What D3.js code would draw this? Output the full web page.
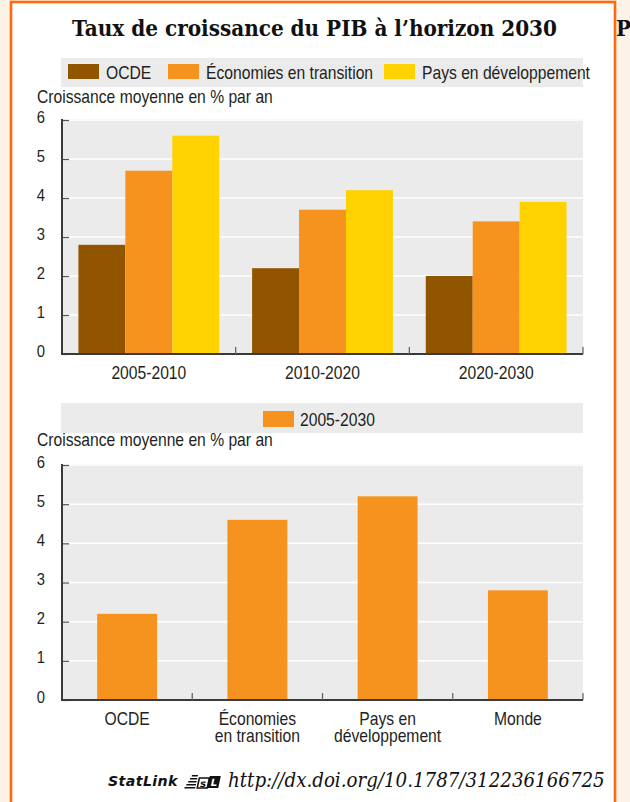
<!DOCTYPE html>
<html>
<head>
<meta charset="utf-8">
<script src="https://cdn.jsdelivr.net/npm/d3@7"></script>
<style>
  html, body { margin: 0; padding: 0; background: #FDF2E6; }
  svg { display: block; }
  .cond { font-family: "Liberation Sans", Arial, sans-serif; fill: #231F20; }
</style>
</head>
<body>
<svg id="chart" width="630" height="802"></svg>
<script>
// Top chart: average annual growth by period and country group
const periods = ["2005-2010", "2010-2020", "2020-2030"];
const seriesNames = ["OCDE", "Économies en transition", "Pays en développement"];
const ocde = [2.8, 2.2, 2.0];
const transition = [4.7, 3.7, 3.4];
const developpement = [5.6, 4.2, 3.9];
const seriesColors = ["#915500", "#F6921E", "#FFD200"];

// Bottom chart: average 2005-2030
const regionLabels = [["OCDE"], ["Économies", "en transition"], ["Pays en", "développement"], ["Monde"]];
const avgSeriesName = "2005-2030";
const avg20052030 = [2.2, 4.6, 5.2, 2.8];

const yTicks = [0, 1, 2, 3, 4, 5, 6];
const yTitle = "Croissance moyenne en % par an";
const title = "Taux de croissance du PIB à l’horizon 2030";
const doiUrl = "http://dx.doi.org/10.1787/312236166725";

const svg = d3.select("#chart");
const plotBg = "#EBEBEB";
const axisColor = "#3A3A3A";
const fontSize = 18;

// Page background and framed panel
svg.append("rect").attr("width", 630).attr("height", 802).attr("fill", "#FDF2E6");
svg.append("rect").attr("x", 11).attr("y", 2).attr("width", 604).attr("height", 820)
  .attr("fill", "#fff").attr("stroke", "#FF6A0E").attr("stroke-width", 2.6);

// Fit a text element to a target width by adjusting font size
function fitWidth(sel, target) {
  const fs = parseFloat(sel.attr("font-size"));
  const w = sel.node().getComputedTextLength();
  if (w > 0) sel.attr("font-size", (fs * target / w).toFixed(2));
  return sel;
}

// Condensed look: the sans text is squeezed horizontally by a common factor
let squeeze = 1;
function condText(parent, x, y, lines, anchor, lineGap, size) {
  const arr = Array.isArray(lines) ? lines : [lines];
  const t = parent.append("text").attr("class", "cond")
    .attr("transform", `translate(${x},${y}) scale(${squeeze},1)`)
    .attr("font-size", size || fontSize)
    .attr("text-anchor", anchor || "start");
  arr.forEach((ln, j) => t.append("tspan").attr("x", 0).attr("y", j * (lineGap || 17)).text(ln));
  return t;
}

const titleText = svg.append("text")
  .attr("x", 314.5).attr("y", 36).attr("text-anchor", "middle")
  .attr("font-family", "DejaVu Serif Condensed, DejaVu Serif").attr("font-weight", "bold")
  .attr("font-size", 20).attr("fill", "#111").text(title);
fitWidth(titleText, 485);

svg.append("text").attr("x", 616).attr("y", 36)
  .attr("font-family", "DejaVu Serif Condensed, DejaVu Serif").attr("font-weight", "bold")
  .attr("font-size", titleText.attr("font-size")).attr("fill", "#111").text("P");

// calibrate the squeeze on the axis title width
{
  const probe = svg.append("text").attr("class", "cond").attr("font-size", fontSize).text(yTitle);
  squeeze = 236 / probe.node().getComputedTextLength();
  probe.remove();
}

const left = 62, right = 583;

function drawFrame(g, y, yTop, yBottom) {
  g.append("rect").attr("x", left).attr("y", yTop - 1)
    .attr("width", right - left).attr("height", yBottom - yTop + 1).attr("fill", plotBg);
  g.selectAll("line.grid").data(yTicks.filter(d => d > 0)).join("line")
    .attr("class", "grid")
    .attr("x1", left).attr("x2", right)
    .attr("y1", d => y(d)).attr("y2", d => y(d))
    .attr("stroke", "#fff").attr("stroke-width", 1.5);
}

function drawAxes(g, y, yBottom, bandScale) {
  const yAxis = d3.axisRight(y).tickValues(yTicks).tickSize(7).tickFormat("");
  const ya = g.append("g").attr("transform", `translate(${left},0)`).call(yAxis);
  ya.select(".domain").remove();
  ya.selectAll(".tick line").attr("stroke", "#555").attr("stroke-width", 1.2);
  g.append("line").attr("x1", left).attr("x2", left).attr("y1", y(6) - 1).attr("y2", yBottom + 1)
    .attr("stroke", axisColor).attr("stroke-width", 2);
  yTicks.forEach(d => condText(g, 45, y(d) + 2.5, String(d), "end", 17, 17));
  g.append("line").attr("x1", left).attr("x2", right).attr("y1", yBottom).attr("y2", yBottom)
    .attr("stroke", axisColor).attr("stroke-width", 2);
  const bounds = bandScale.domain().slice(1).map(d => bandScale(d)).concat([right]);
  g.selectAll("line.sep").data(bounds).join("line")
    .attr("class", "sep")
    .attr("x1", d => d).attr("x2", d => d)
    .attr("y1", yBottom).attr("y2", yBottom - 7)
    .attr("stroke", "#666").attr("stroke-width", 1.3);
}

// ---------------- Top chart ----------------
const gTop = svg.append("g");
gTop.append("rect").attr("x", 61).attr("y", 58).attr("width", 522).attr("height", 29).attr("fill", plotBg);
const legendX = [68, 168, 384];
seriesNames.forEach((name, i) => {
  gTop.append("rect").attr("x", legendX[i]).attr("y", 64).attr("width", 31).attr("height", 15)
    .attr("fill", seriesColors[i]);
  condText(gTop, legendX[i] + 38, 78.5, name);
});
condText(gTop, 37, 103, yTitle);

const yT = d3.scaleLinear().domain([0, 6]).range([354, 120]);
const x0 = d3.scaleBand().domain(periods).range([left, right]).padding(0);
const x1 = d3.scaleBand().domain(seriesNames).range([0, x0.bandwidth()]).paddingInner(0).paddingOuter(0.35);

drawFrame(gTop, yT, 120, 354);

const topData = periods.map((p, i) => ({
  period: p,
  values: [ocde[i], transition[i], developpement[i]].map((v, j) => ({ key: seriesNames[j], value: v, color: seriesColors[j] }))
}));
gTop.selectAll("g.group").data(topData).join("g")
  .attr("class", "group")
  .attr("transform", d => `translate(${x0(d.period)},0)`)
  .selectAll("rect").data(d => d.values).join("rect")
  .attr("x", d => x1(d.key)).attr("width", x1.bandwidth())
  .attr("y", d => yT(d.value)).attr("height", d => yT(0) - yT(d.value))
  .attr("fill", d => d.color);

drawAxes(gTop, yT, 354, x0);

periods.forEach(p => condText(gTop, x0(p) + x0.bandwidth() / 2, 379, p, "middle"));

// ---------------- Bottom chart ----------------
const gBot = svg.append("g");
gBot.append("rect").attr("x", 61).attr("y", 403).attr("width", 522).attr("height", 30).attr("fill", plotBg);
gBot.append("rect").attr("x", 263).attr("y", 411).attr("width", 31).attr("height", 16).attr("fill", seriesColors[1]);
condText(gBot, 300, 425.5, avgSeriesName);
condText(gBot, 37, 446, yTitle);

const regionKeys = regionLabels.map(l => l.join(" "));
const yB = d3.scaleLinear().domain([0, 6]).range([700, 465]);
const xb = d3.scaleBand().domain(regionKeys).range([left, right]).padding(0);
const xbBar = d3.scaleBand().domain(regionKeys).range([left, right]).paddingInner(0.54).paddingOuter(0.27);

drawFrame(gBot, yB, 465, 700);

gBot.selectAll("rect.bar").data(regionKeys.map((k, i) => ({ key: k, value: avg20052030[i] }))).join("rect")
  .attr("class", "bar")
  .attr("x", d => xbBar(d.key)).attr("width", xbBar.bandwidth())
  .attr("y", d => yB(d.value)).attr("height", d => yB(0) - yB(d.value))
  .attr("fill", seriesColors[1]);

drawAxes(gBot, yB, 700, xb);

regionLabels.forEach((lines, i) => {
  condText(gBot, xb(regionKeys[i]) + xb.bandwidth() / 2, 725, lines, "middle", 17);
});

// ---------------- Footer: StatLink ----------------
const foot = svg.append("g");
const sl = foot.append("text").attr("x", 108).attr("y", 786)
  .attr("font-family", "DejaVu Sans").attr("font-weight", "bold").attr("font-style", "italic")
  .attr("font-size", 14).attr("fill", "#111").attr("letter-spacing", 0.4).text("StatLink");
fitWidth(sl, 70);

const logo = foot.append("g").attr("transform", "translate(186,775) skewX(-12)");
[0, 3, 6, 9, 12].forEach((yy, i) => {
  logo.append("rect").attr("x", 6 - i * 1.2).attr("y", yy).attr("width", 6 + i * 1.2).attr("height", 1.6).attr("fill", "#111");
});
logo.append("rect").attr("x", 14).attr("y", 3).attr("width", 10).attr("height", 10)
  .attr("fill", "#fff").attr("stroke", "#111").attr("stroke-width", 1.6);
logo.append("text").attr("x", 19).attr("y", 12).attr("text-anchor", "middle")
  .attr("font-family", "DejaVu Sans").attr("font-weight", "bold").attr("font-size", 10).attr("fill", "#111").text("s");
logo.append("rect").attr("x", 24).attr("y", 1).attr("width", 11).attr("height", 12).attr("fill", "#111");
logo.append("text").attr("x", 29.5).attr("y", 11).attr("text-anchor", "middle")
  .attr("font-family", "DejaVu Sans").attr("font-weight", "bold").attr("font-size", 10).attr("fill", "#fff").text("L");

const url = foot.append("text").attr("x", 228).attr("y", 787)
  .attr("font-family", "DejaVu Serif Condensed, DejaVu Serif").attr("font-style", "italic")
  .attr("font-size", 17).attr("fill", "#111").text(doiUrl);
fitWidth(url, 377);
</script>
</body>
</html>
